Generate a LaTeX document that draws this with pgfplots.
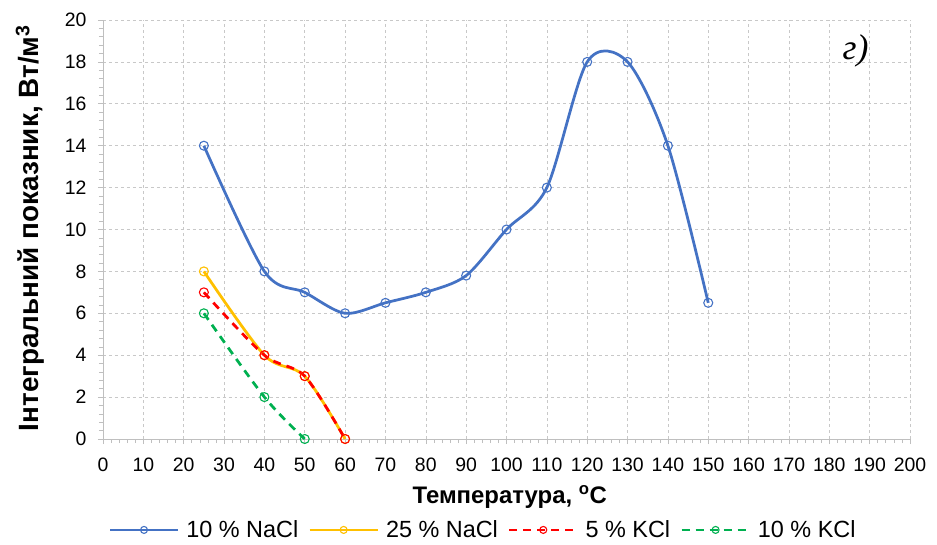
\documentclass[border=0pt]{standalone}
\usepackage{pgfplots}
\pgfplotsset{compat=1.18}
\usepackage{fontspec}
\setmainfont{Liberation Sans}
\newfontfamily\serifit{Liberation Serif}
\definecolor{cblue}{HTML}{4472C4}
\definecolor{corange}{HTML}{FFC000}
\definecolor{cred}{HTML}{FF0000}
\definecolor{cgreen}{HTML}{00B050}
\definecolor{cgrid}{HTML}{C8C8C8}
\definecolor{caxis}{HTML}{BFBFBF}
\begin{document}
\begin{tikzpicture}[x=1bp,y=1bp]
\begin{axis}[
  name=ax,
  scale only axis,
  width=807bp, height=419bp,
  xmin=0, xmax=200, ymin=0, ymax=20,
  xtick distance=10, ytick distance=2,
  minor x tick num=4, minor y tick num=4,
  axis x line*=bottom, axis y line*=left,
  axis line style={caxis, line width=0.8pt, -},
  tick align=outside,
  major tick length=5bp, minor tick length=4bp,
  tick style={caxis, line width=0.6pt},
  grid=major,
  major grid style={cgrid, dashed, line width=0.6pt},
  /pgf/number format/assume math mode=true,
  ticklabel style={font=\fontsize{19.5}{22}\selectfont, black},
  xticklabel style={yshift=-10bp},
  yticklabel style={xshift=-8bp},
  xlabel={\textbf{Температура, \textsuperscript{o}C}},
  ylabel={\textbf{Інтегральний показник, Вт/м\textsuperscript{3}}},
  xlabel style={font=\fontsize{24}{27}\selectfont, at={(axis description cs:0.504,-0.138)}, anchor=center},
  ylabel style={font=\fontsize{28}{31}\selectfont, at={(axis description cs:-0.0905,0.503)}, anchor=center},
  legend columns=4,
  legend style={draw=none, at={(0.471,-0.217)}, anchor=center, font=\fontsize{23.5}{26}\selectfont,
    inner sep=0pt,
    /tikz/every odd column/.append style={column sep=5bp},
    /tikz/every even column/.append style={column sep=8bp}},
  legend image code/.code={\draw[mark repeat=2,mark phase=2,#1, mark size=3.5bp] plot coordinates {(0bp,0bp) (34bp,0bp) (68bp,0bp)};},
  every axis plot/.append style={line width=2.75bp, mark=o, mark size=4.5bp, mark options={solid, line width=1.1bp}},
  clip=false,
]
\addplot[cblue, smooth, tension=0.5] coordinates {(25,14) (40,8) (50,7) (60,6) (70,6.5) (80,7) (90,7.8) (100,10) (110,12) (120,18) (130,18) (140,14) (150,6.5)};
\addlegendentry{10 \% NaCl}
\addplot[corange, smooth, tension=0.5] coordinates {(25,8) (40,4) (50,3) (60,0)};
\addlegendentry{25 \% NaCl}
\addplot[cred, smooth, tension=0.5, dash pattern=on 8bp off 6bp] coordinates {(25,7) (40,4) (50,3) (60,0)};
\addlegendentry{5 \% KCl}
\addplot[cgreen, smooth, tension=0.5, dash pattern=on 8bp off 6bp] coordinates {(25,6) (40,2) (50,0)};
\addlegendentry{10 \% KCl}
\node[font=\serifit\itshape\fontsize{36}{38}\selectfont] at (axis cs:186.5,18.55) {г)};
\end{axis}
\pgfresetboundingbox
\path ([shift={(-103bp,-106bp)}]ax.south west) rectangle ([shift={(27bp,20bp)}]ax.north east);
\end{tikzpicture}
\end{document}
